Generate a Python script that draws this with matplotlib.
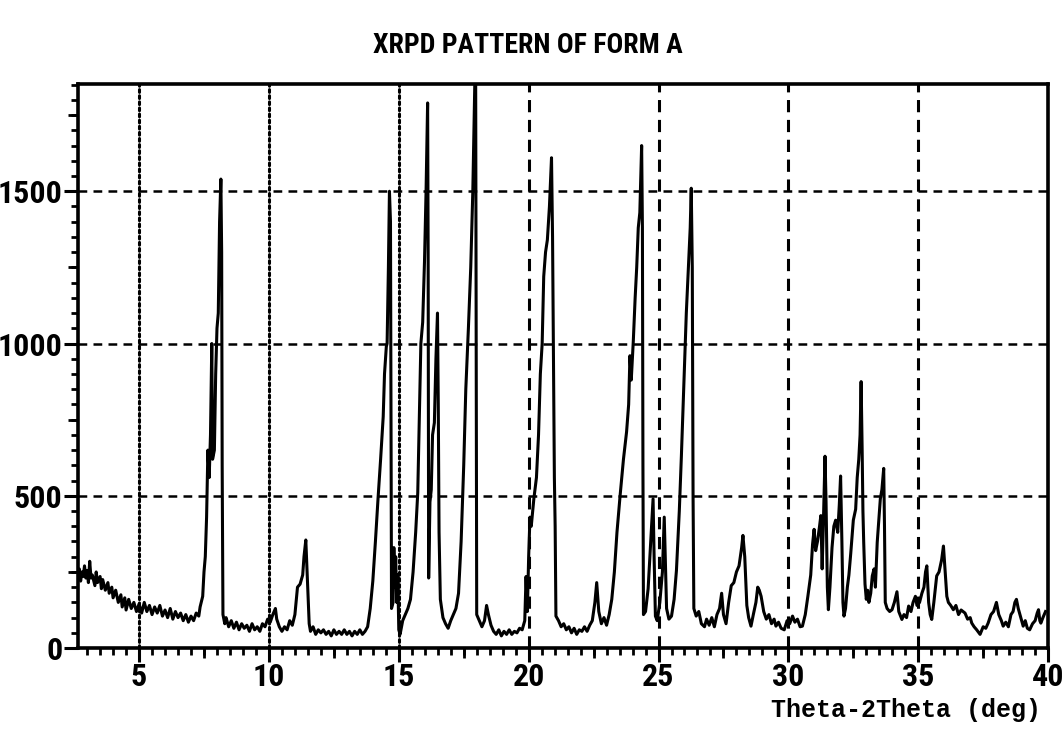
"""XRPD pattern of Form A, redrawn from a scanned figure."""
import matplotlib
matplotlib.use("Agg")
import matplotlib.pyplot as plt
from matplotlib import font_manager
from matplotlib.ticker import MultipleLocator, FixedLocator, NullFormatter

# 2-theta (deg) and counts
two_theta = [
    2.65, 2.7, 2.75, 2.8, 2.85, 2.9, 2.95, 3.0, 3.05, 3.1, 3.15, 3.2, 3.3, 3.35, 3.4, 3.5,
    3.55, 3.6, 3.7, 3.8, 3.85, 3.95, 4.0, 4.1, 4.2, 4.3, 4.35, 4.45, 4.5, 4.6, 4.7, 4.8,
    4.9, 5.0, 5.1, 5.2, 5.3, 5.4, 5.5, 5.6, 5.7, 5.8, 5.9, 6.0, 6.1, 6.2, 6.3, 6.4,
    6.5, 6.6, 6.7, 6.8, 6.9, 7.0, 7.1, 7.2, 7.3, 7.35, 7.45, 7.5, 7.55, 7.6, 7.65, 7.7,
    7.75, 7.8, 7.83, 7.9, 7.95, 8.0, 8.05, 8.1, 8.15, 8.18, 8.2, 8.23, 8.3, 8.35, 8.45, 8.55,
    8.65, 8.75, 8.85, 8.95, 9.05, 9.15, 9.25, 9.35, 9.45, 9.55, 9.65, 9.75, 9.85, 9.95, 10.05, 10.15,
    10.25, 10.3, 10.4, 10.5, 10.6, 10.7, 10.8, 10.9, 11.0, 11.1, 11.2, 11.3, 11.35, 11.42, 11.48, 11.55,
    11.6, 11.7, 11.8, 11.9, 12.0, 12.1, 12.2, 12.3, 12.4, 12.5, 12.6, 12.7, 12.8, 12.9, 13.0, 13.1,
    13.2, 13.3, 13.4, 13.5, 13.6, 13.7, 13.8, 13.9, 14.0, 14.1, 14.2, 14.3, 14.4, 14.45, 14.52, 14.55,
    14.6, 14.64, 14.68, 14.7, 14.72, 14.78, 14.81, 14.85, 14.88, 14.92, 14.96, 15.0, 15.05, 15.15, 15.25, 15.35,
    15.45, 15.55, 15.65, 15.73, 15.8, 15.85, 15.92, 15.99, 16.05, 16.11, 16.13, 16.15, 16.2, 16.25, 16.3, 16.37,
    16.43, 16.49, 16.52, 16.55, 16.6, 16.7, 16.8, 16.9, 17.0, 17.1, 17.2, 17.3, 17.4, 17.5, 17.58, 17.68,
    17.77, 17.85, 17.93, 17.96, 17.98, 18.0, 18.1, 18.2, 18.3, 18.38, 18.45, 18.55, 18.65, 18.75, 18.85, 18.95,
    19.05, 19.15, 19.25, 19.35, 19.45, 19.55, 19.65, 19.75, 19.85, 19.9, 19.95, 20.0, 20.05, 20.1, 20.2, 20.3,
    20.38, 20.45, 20.52, 20.58, 20.65, 20.72, 20.8, 20.88, 20.92, 20.96, 20.99, 21.02, 21.05, 21.15, 21.25, 21.35,
    21.45, 21.55, 21.65, 21.75, 21.85, 21.95, 22.05, 22.15, 22.25, 22.35, 22.45, 22.55, 22.62, 22.7, 22.8, 22.9,
    23.0, 23.1, 23.2, 23.3, 23.4, 23.52, 23.65, 23.77, 23.85, 23.9, 23.95, 24.03, 24.1, 24.16, 24.22, 24.28,
    24.35, 24.38, 24.4, 24.42, 24.5, 24.6, 24.7, 24.79, 24.83, 24.88, 24.95, 25.05, 25.15, 25.22, 25.26, 25.31,
    25.4, 25.5, 25.6, 25.69, 25.8, 25.88, 25.97, 26.07, 26.15, 26.22, 26.26, 26.3, 26.33, 26.36, 26.45, 26.55,
    26.65, 26.77, 26.85, 26.95, 27.05, 27.15, 27.25, 27.35, 27.43, 27.5, 27.6, 27.7, 27.8, 27.9, 28.0, 28.1,
    28.2, 28.25, 28.32, 28.4, 28.47, 28.56, 28.65, 28.75, 28.82, 28.88, 28.95, 29.05, 29.15, 29.25, 29.35, 29.45,
    29.52, 29.62, 29.72, 29.84, 29.95, 30.05, 30.16, 30.25, 30.35, 30.45, 30.54, 30.65, 30.75, 30.86, 30.93, 30.99,
    31.05, 31.12, 31.2, 31.25, 31.3, 31.35, 31.41, 31.45, 31.5, 31.54, 31.6, 31.68, 31.75, 31.82, 31.9, 31.96,
    32.01, 32.06, 32.1, 32.14, 32.2, 32.27, 32.33, 32.4, 32.5, 32.59, 32.65, 32.71, 32.76, 32.8, 32.84, 32.87,
    32.9, 32.95, 33.0, 33.05, 33.1, 33.17, 33.23, 33.3, 33.35, 33.42, 33.48, 33.54, 33.6, 33.67, 33.7, 33.73,
    33.8, 33.9, 33.99, 34.08, 34.18, 34.25, 34.37, 34.45, 34.55, 34.63, 34.72, 34.8, 34.89, 34.95, 35.05, 35.14,
    35.22, 35.28, 35.33, 35.4, 35.46, 35.52, 35.6, 35.71, 35.8, 35.9, 35.97, 36.05, 36.1, 36.16, 36.25, 36.35,
    36.45, 36.55, 36.65, 36.8, 36.9, 37.0, 37.06, 37.15, 37.25, 37.38, 37.5, 37.6, 37.69, 37.8, 37.9, 38.01,
    38.1, 38.2, 38.27, 38.37, 38.47, 38.57, 38.65, 38.72, 38.78, 38.85, 38.95, 39.04, 39.12, 39.2, 39.29, 39.4,
    39.5, 39.58, 39.63, 39.68, 39.72, 39.8, 39.9,
]
counts = [
    230, 260, 220, 250, 235, 270, 230, 255, 215, 285, 230, 240, 205, 250, 215, 235,
    195, 225, 190, 215, 180, 200, 165, 190, 150, 175, 135, 165, 125, 160, 130, 150,
    120, 145, 115, 150, 120, 140, 110, 135, 115, 140, 105, 125, 100, 130, 95, 120,
    100, 115, 90, 110, 85, 105, 90, 115, 105, 135, 170, 250, 300, 430, 650, 560,
    700, 1000, 620, 650, 900, 1050, 1100, 1400, 1540, 1300, 600, 110, 80, 100, 70, 90,
    65, 85, 60, 80, 65, 75, 55, 80, 60, 70, 55, 80, 70, 95, 85, 110,
    130, 95, 70, 55, 70, 60, 90, 75, 110, 200, 210, 240, 300, 355, 230, 80,
    55, 70, 45, 60, 50, 60, 45, 55, 40, 60, 45, 55, 45, 60, 45, 55,
    40, 55, 45, 60, 45, 55, 70, 130, 220, 350, 490, 620, 760, 900, 990, 1000,
    1250, 1500, 1400, 700, 130, 150, 330, 200, 300, 150, 240, 60, 45, 90, 110, 130,
    160, 250, 380, 510, 800, 1000, 1070, 1270, 1500, 1790, 1300, 230, 480, 520, 700, 740,
    950, 1100, 800, 380, 160, 100, 80, 65, 90, 110, 130, 180, 350, 600, 850, 1050,
    1250, 1500, 1870, 1870, 900, 110, 90, 70, 90, 140, 110, 75, 55, 45, 60, 40,
    55, 45, 60, 45, 55, 50, 65, 60, 90, 235, 120, 300, 430, 400, 490, 560,
    700, 900, 1000, 1220, 1300, 1340, 1450, 1610, 1350, 880, 560, 400, 105, 90, 70, 80,
    60, 70, 50, 65, 45, 60, 55, 70, 55, 75, 90, 150, 215, 120, 80, 100,
    75, 110, 160, 250, 380, 500, 620, 710, 800, 960, 880, 1010, 1150, 1250, 1380, 1430,
    1650, 1380, 600, 110, 120, 195, 350, 490, 300, 105, 90, 150, 250, 430, 300, 130,
    95, 105, 160, 255, 450, 630, 850, 1100, 1250, 1380, 1510, 1250, 500, 130, 105, 120,
    80, 70, 95, 75, 100, 70, 110, 130, 180, 110, 80, 150, 205, 215, 250, 270,
    330, 370, 300, 140, 100, 72, 110, 150, 200, 190, 170, 120, 95, 110, 80, 95,
    72, 85, 65, 60, 90, 80, 105, 85, 95, 70, 72, 110, 170, 240, 340, 390,
    320, 350, 400, 435, 260, 420, 630, 480, 200, 126, 200, 330, 400, 420, 380, 470,
    565, 350, 150, 105, 130, 200, 240, 310, 420, 456, 560, 620, 700, 875, 650, 450,
    347, 210, 160, 190, 150, 180, 237, 260, 200, 347, 420, 490, 520, 590, 400, 150,
    130, 120, 126, 150, 185, 120, 94, 110, 100, 138, 120, 150, 170, 140, 150, 180,
    200, 250, 270, 150, 110, 94, 150, 237, 250, 290, 335, 230, 170, 150, 140, 126,
    140, 110, 125, 115, 95, 100, 82, 70, 60, 45, 70, 65, 82, 110, 120, 150,
    110, 90, 72, 85, 70, 110, 120, 150, 160, 130, 100, 72, 90, 65, 60, 80,
    90, 115, 126, 90, 82, 100, 120,
]

x_ticks = [5, 10, 15, 20, 25, 30, 35, 40]
y_ticks = [0, 500, 1000, 1500]
dotted_grid_x = [5, 10, 15]
dashed_grid_x = [20, 25, 30, 35]

# the original uses a condensed bold sans; take the narrowest one installed
fonts = font_manager.fontManager.ttflist
names = {f.name for f in fonts}
stretch = "normal"
narrow = "Liberation Sans"
for cand in ["Roboto Condensed", "Open Sans Condensed", "Liberation Sans Narrow", "Arial Narrow"]:
    if cand in names:
        narrow = cand
        break
else:
    if any(f.name == "DejaVu Sans" and f.stretch == "condensed" for f in fonts):
        narrow, stretch = "DejaVu Sans", "condensed"
label_font = dict(family=[narrow, "DejaVu Sans"], weight="bold", fontstretch=stretch)

fig = plt.figure(figsize=(10.63, 7.29), dpi=100)
ax = fig.add_axes([0.0734, 0.111, 0.9126, 0.7737])

ax.plot(two_theta, counts, color="black", linewidth=2.2, zorder=3)

ax.set_xlim(2.65, 40)
ax.set_ylim(0, 1852)

# grid: dotted for the low angles, dashed elsewhere, as in the original
for gx in dotted_grid_x:
    ax.axvline(gx, color="black", linewidth=2.2, linestyle=(0, (0.9, 1.1)),
               dash_capstyle="round", zorder=1)
for gx in dashed_grid_x:
    ax.axvline(gx, color="black", linewidth=2.2, linestyle=(0, (4, 2.5)), zorder=1)
for gy in y_ticks[1:]:
    ax.axhline(gy, color="black", linewidth=1.8, linestyle=(0, (3.5, 2.5)), zorder=1)

for side in ax.spines.values():
    side.set_linewidth(2.6)

ax.xaxis.set_major_locator(FixedLocator(x_ticks))
ax.xaxis.set_minor_locator(MultipleLocator(0.5))
ax.yaxis.set_major_locator(FixedLocator(y_ticks))
ax.yaxis.set_minor_locator(MultipleLocator(50))
ax.tick_params(which="major", direction="out", length=10, width=2.2, pad=1)
ax.tick_params(which="minor", direction="out", length=5, width=2.0)
ax.tick_params(axis="x", which="major", pad=0)
ax.set_xticklabels([str(v) for v in x_ticks], fontsize=23, **label_font)
ax.set_yticklabels([str(v) for v in y_ticks], fontsize=23, **label_font)

# medium ticks every 2.5 deg / 250 counts
sec_x = ax.secondary_xaxis("bottom")
sec_x.xaxis.set_major_locator(MultipleLocator(2.5))
sec_x.xaxis.set_major_formatter(NullFormatter())
sec_x.tick_params(length=7, width=2.0)
sec_x.spines["bottom"].set_visible(False)
sec_y = ax.secondary_yaxis("left")
sec_y.yaxis.set_major_locator(MultipleLocator(250))
sec_y.yaxis.set_major_formatter(NullFormatter())
sec_y.tick_params(length=7, width=2.0)
sec_y.spines["left"].set_visible(False)

fig.text(0.497, 0.938, "XRPD PATTERN OF FORM A", ha="center", va="center",
         fontsize=20, **label_font)
fig.text(0.979, 0.026, "Theta-2Theta (deg)", ha="right", va="center",
         fontsize=18, family=["Liberation Mono", "DejaVu Sans Mono"], weight="bold")

fig.savefig("out.png", dpi=100)
